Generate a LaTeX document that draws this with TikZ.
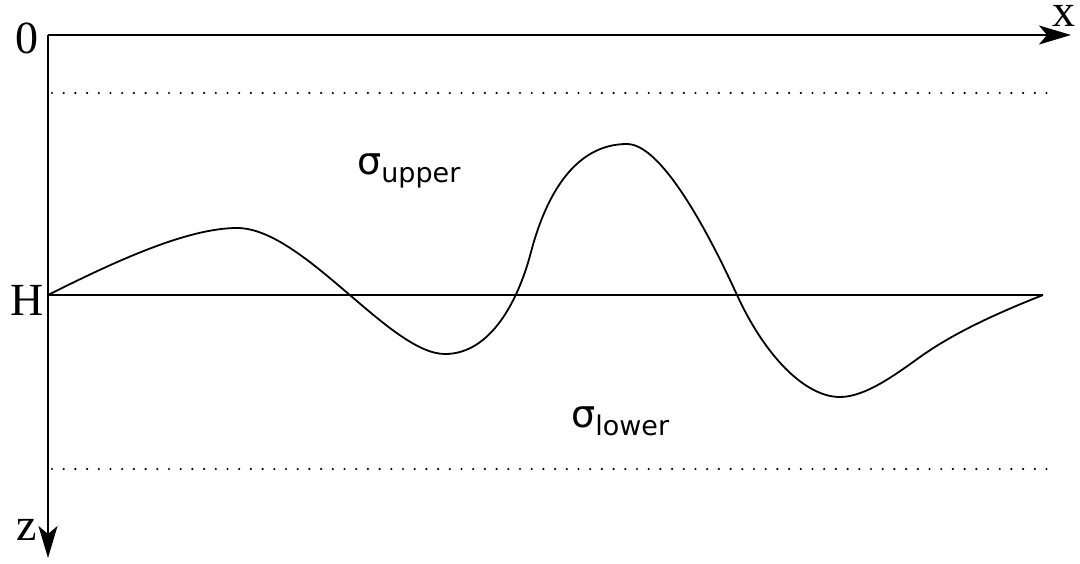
\documentclass[tikz,border=0pt]{standalone}
\usepackage{fontspec}
\setmainfont{Liberation Serif}
\newfontfamily\sigmafont{DejaVu Sans}
\usetikzlibrary{arrows.meta}
\begin{document}
\begin{tikzpicture}[x=1pt,y=-1pt,
  axis/.style={line width=2.2pt,-{Stealth[length=32pt,width=19pt,inset=8pt]}},
  dotline/.style={line width=2.4pt,line cap=round,dash pattern=on 0pt off 11.7pt},
  thinline/.style={line width=1.8pt},
  serlab/.style={inner sep=0pt,anchor=base,font=\fontsize{46}{46}\selectfont},
  siglab/.style={inner sep=0pt,anchor=base west,font=\sigmafont\fontsize{38}{38}\selectfont}]
\fill[white] (0,0) rectangle (1080,563);
\useasboundingbox (0,0) rectangle (1080,563);
\coordinate (O) at (48,35);
\coordinate (xend) at (1071,35);
\coordinate (zend) at (48,558);
\coordinate (Hs) at (48,295);
\coordinate (He) at (1043,295);
\coordinate (d1s) at (52,93);
\coordinate (d1e) at (1054,93);
\coordinate (d2s) at (52,469);
\coordinate (d2e) at (1054,469);
% dotted lines
\draw[dotline] (d1s) -- (d1e);
\draw[dotline] (d2s) -- (d2e);
% H line
\draw[thinline] (Hs) -- (He);
% wave
\draw[thinline] (Hs) .. controls (108,265) and (185,228) .. (237,228)
  .. controls (303,228) and (390,354) .. (445,354)
  .. controls (490,354) and (518,302) .. (531,252)
  .. controls (546,195) and (575,144) .. (627,144)
  .. controls (660,144) and (705,225) .. (737,295)
  .. controls (765,356) and (805,397) .. (840,397)
  .. controls (865,397) and (895,375) .. (920,357)
  .. controls (955,332) and (1000,312) .. (He);
% axes
\draw[axis] (O) -- (xend);
\draw[axis] (O) -- (zend);
% labels
\node[serlab] (l0) at (27.5,53) {0};
\node[serlab] (lx) at (1064,26) {x};
\node[serlab] (lH) at (27,315) {H};
\node[serlab] (lz) at (27,540) {z};
\node[siglab] (su) at (357,174) {σ\raisebox{-8pt}{\fontsize{27}{27}\selectfont upper}};
\node[siglab] (sl) at (571,427) {σ\raisebox{-8pt}{\fontsize{27}{27}\selectfont lower}};
\end{tikzpicture}
\end{document}
